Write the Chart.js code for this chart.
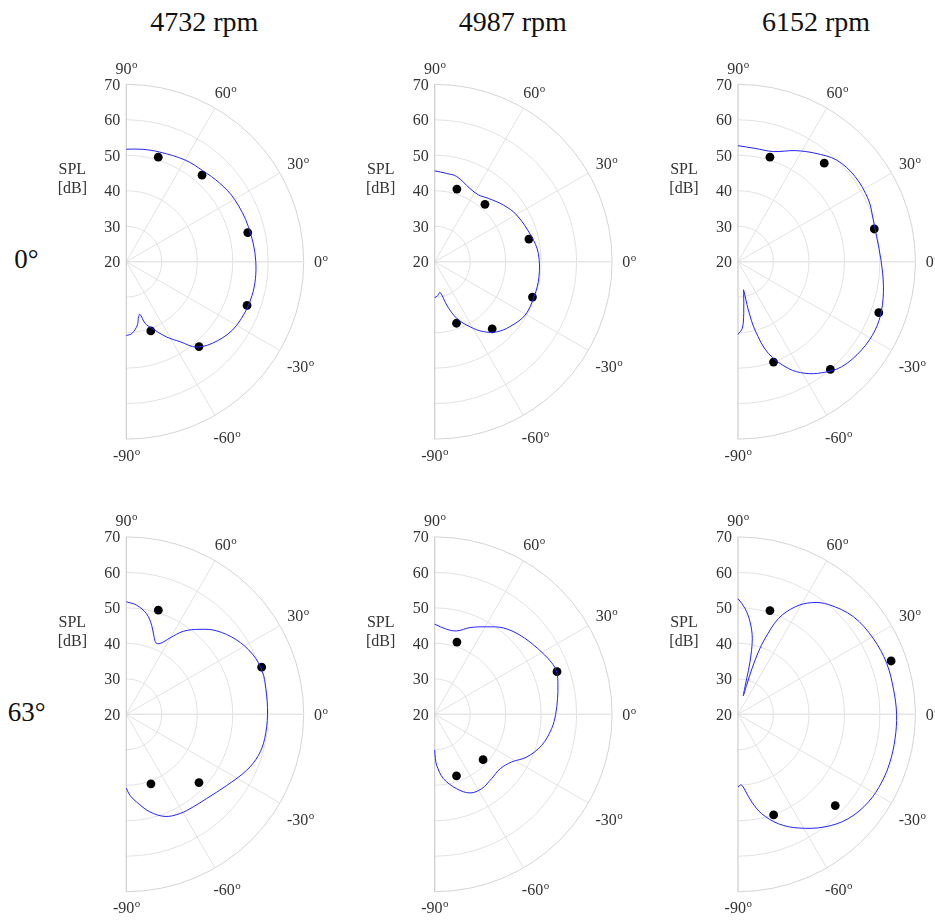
<!DOCTYPE html>
<html>
<head>
<meta charset="utf-8">
<title>SPL directivity</title>
<script src="https://cdn.jsdelivr.net/npm/chart.js@4.4.1/dist/chart.umd.min.js"></script>
<style>
  html, body { margin: 0; padding: 0; background: #fff; }
  body { position: relative; width: 935px; height: 922px; overflow: hidden; color: #111; }
  .col-title { position: absolute; top: 6px; font-family: "Liberation Serif", "DejaVu Serif", serif;
               font-size: 28px; line-height: 32px; transform: translateX(-50%); white-space: nowrap; }
  .row-title { position: absolute; font-family: "Liberation Serif", "DejaVu Serif", serif;
               font-size: 27px; line-height: 30px; transform: translate(-50%, -50%); white-space: nowrap; }
  canvas { position: absolute; }
</style>
</head>
<body>
<script>
// Labels and ticks
const rpmLabels = ['4732 rpm', '4987 rpm', '6152 rpm'];
const rowLabels = ['0°', '63°'];
const radialTicks = [20, 30, 40, 50, 60, 70];
const angleTicks = [90, 60, 30, 0, -30, -60, -90];

// Microphone angles (deg) for each row
const micAngles0 = [73, 48.8, 13.5, -19.9, -49.4, -70.5];
const micAngles63 = [72.9, 19.2, -43.2, -70.5];

// Measured SPL at the microphones (dB)
const mic0_4732 = [50.8, 52.4, 55.2, 56.2, 51.5, 40.7];
const mic0_4987 = [41.4, 41.5, 47.3, 49.3, 44.9, 38.4];
const mic0_6152 = [50.8, 56.9, 59.5, 62.2, 60.0, 50.0];
const mic63_4732 = [50.7, 60.4, 48.1, 40.8];
const mic63_4987 = [41.3, 56.5, 38.7, 38.4];
const mic63_6152 = [50.6, 65.7, 57.6, 50.1];

// Predicted directivity curves: angle (deg) and SPL (dB)
const curveAng0_4732 = [90, 82, 73, 60, 50, 40, 30, 16, 0, -15, -30, -41, -50.5, -56, -62, -69, -73, -75.5, -78, -80, -85.5, -90];
const curveSpl0_4732 = [51.7, 52.0, 52.3, 53.1, 53.5, 54.4, 55.2, 55.8, 56.5, 56.7, 55.9, 54.0, 51.2, 47.2, 44.0, 40.1, 38.2, 35.3, 36.3, 38.1, 40.3, 40.8];

const curveAng0_4987 = [90, 82.3, 75.5, 64.3, 56.8, 49.7, 39.5, 29.6, 14.5, 4.6, -8.2, -19.2, -30.6, -40.8, -48.5, -55.2, -61.5, -68.8, -74.5, -80, -85.5, -90];
const curveSpl0_4987 = [45.6, 45.1, 44.8, 42.9, 42.5, 43.4, 45.1, 46.6, 48.2, 49.3, 49.7, 49.7, 49.6, 48.0, 46.4, 44.0, 40.9, 37.1, 32.7, 28.8, 29.7, 30.1];

const curveAng0_6152 = [90, 81.5, 72.2, 62.8, 54.6, 45.9, 36, 25.3, 17.1, 10.2, 0.7, -9.8, -18.6, -26.5, -35.5, -45.4, -53, -59, -64.7, -71.7, -76, -77.9, -78.8, -80, -83.7, -86.3, -90];
const curveSpl0_6152 = [52.7, 52.3, 52.6, 55.2, 57.5, 59.9, 60.8, 60.7, 59.9, 59.7, 60.3, 61.6, 62.7, 63.2, 62.8, 61.6, 59.2, 56.7, 53.3, 47.2, 39.9, 33.9, 28.1, 29.2, 34.7, 38.8, 40.5];

const curveAng63_4732 = [90, 84.6, 78.6, 74.1, 70.3, 67.4, 64.5, 60.2, 55.5, 49.1, 42.9, 34.3, 25.5, 17.6, 10.5, 0, -10, -17.3, -25, -35.3, -46.4, -54.1, -61.6, -69.2, -76.4, -83.3, -87.4, -90];
const curveSpl63_4732 = [51.7, 50.9, 48.9, 46.1, 43.2, 41.8, 42.1, 44.8, 48.4, 51.7, 54.6, 57.4, 59.4, 60.2, 60.0, 59.8, 59.6, 59.0, 57.4, 54.7, 52.8, 52.2, 51.8, 50.8, 48.3, 44.9, 42.9, 40.8];

const curveAng63_4987 = [90, 82, 75.2, 67.8, 59.2, 51.5, 42.8, 32.8, 24, 19, 13.4, 7.3, 0, -7, -16.2, -24.9, -31.8, -39.7, -48.5, -57.7, -65.8, -73.5, -82.3, -87.8, -89.1, -90];
const curveSpl63_4987 = [45.4, 44.2, 44.3, 46.4, 48.7, 51.1, 52.8, 54.4, 56.0, 56.4, 55.7, 54.9, 54.1, 53.2, 51.4, 48.6, 45.5, 44.0, 44.2, 44.8, 44.3, 41.9, 38.3, 34.4, 32.5, 30.1];

const curveAng63_6152 = [90, 86.2, 82.6, 79.3, 77.1, 76.3, 75.5, 74, 73.5, 73, 71.9, 70.4, 67.1, 62, 56.6, 50.5, 40.2, 29.3, 18.9, 8.9, 0, -8.8, -17.4, -25.2, -33.9, -43.4, -52.3, -62, -69.7, -76.6, -81.1, -84.7, -86.5, -87.8, -90];
const curveSpl63_6152 = [52.6, 49.9, 46.3, 41.7, 35.1, 30.3, 27.3, 25.4, 28.5, 33.4, 38.5, 42.6, 49.3, 54.3, 57.7, 60.1, 62.6, 63.7, 64.3, 64.4, 64.7, 64.8, 64.9, 64.8, 64.3, 62.8, 60.1, 56.3, 52.9, 48.8, 45.0, 41.5, 40.2, 39.9, 40.5];

const panels = [
  { row: 0, col: 0, ang: curveAng0_4732, spl: curveSpl0_4732, micAng: micAngles0, mic: mic0_4732 },
  { row: 0, col: 1, ang: curveAng0_4987, spl: curveSpl0_4987, micAng: micAngles0, mic: mic0_4987 },
  { row: 0, col: 2, ang: curveAng0_6152, spl: curveSpl0_6152, micAng: micAngles0, mic: mic0_6152 },
  { row: 1, col: 0, ang: curveAng63_4732, spl: curveSpl63_4732, micAng: micAngles63, mic: mic63_4732 },
  { row: 1, col: 1, ang: curveAng63_4987, spl: curveSpl63_4987, micAng: micAngles63, mic: mic63_4987 },
  { row: 1, col: 2, ang: curveAng63_6152, spl: curveSpl63_6152, micAng: micAngles63, mic: mic63_6152 },
];

// Layout
const colCenters = [126.3, 434.7, 738];
const rowCenters = [261.7, 714.3];
const RADIUS = 177.4;
const R_MIN = radialTicks[0];
const R_SPAN = radialTicks[radialTicks.length - 1] - R_MIN;
const CANVAS_W = 330, CANVAS_H = 440;
const FONT = '"Liberation Serif", "DejaVu Serif", serif';

function toXY(angleDeg, spl) {
  const a = angleDeg * Math.PI / 180;
  const r = spl - R_MIN;
  return { x: r * Math.cos(a), y: r * Math.sin(a) };
}

// Draw label like 60 with a small raised "o"
function drawAngleLabel(ctx, text, x, y) {
  ctx.font = '16px ' + FONT;
  const w1 = ctx.measureText(text).width;
  ctx.font = '11px ' + FONT;
  const w2 = ctx.measureText('o').width;
  const left = x - (w1 + w2) / 2;
  ctx.textAlign = 'left';
  ctx.textBaseline = 'alphabetic';
  ctx.fillStyle = '#333';
  ctx.font = '16px ' + FONT;
  ctx.fillText(text, left, y + 5.5);
  ctx.font = '11px ' + FONT;
  ctx.fillText('o', left + w1 + 0.5, y - 0.5);
}

const polarGrid = {
  id: 'polarGrid',
  beforeDatasetsDraw(chart) {
    const { ctx, scales: { x, y } } = chart;
    const cx = x.getPixelForValue(0);
    const cy = y.getPixelForValue(0);
    const rPx = v => x.getPixelForValue(v - R_MIN) - cx;
    const R = rPx(radialTicks[radialTicks.length - 1]);
    ctx.save();

    // circles
    radialTicks.slice(1).forEach((t, i, arr) => {
      ctx.beginPath();
      ctx.arc(cx, cy, rPx(t), -Math.PI / 2, Math.PI / 2);
      ctx.strokeStyle = i === arr.length - 1 ? '#d4d4d4' : '#e2e2e2';
      ctx.lineWidth = 1;
      ctx.stroke();
    });

    // spokes
    angleTicks.filter(a => Math.abs(a) < 90).forEach(a => {
      const rad = a * Math.PI / 180;
      ctx.beginPath();
      ctx.moveTo(cx, cy);
      ctx.lineTo(cx + R * Math.cos(rad), cy - R * Math.sin(rad));
      ctx.strokeStyle = a === 0 ? '#e6e6e6' : '#e2e2e2';
      ctx.lineWidth = a === 0 ? 1.6 : 1;
      ctx.stroke();
    });

    // vertical axis
    ctx.beginPath();
    ctx.moveTo(cx, cy - R);
    ctx.lineTo(cx, cy + R);
    ctx.strokeStyle = '#cdcdcd';
    ctx.lineWidth = 1.2;
    ctx.stroke();

    // radial tick labels
    ctx.fillStyle = '#333';
    ctx.font = '16px ' + FONT;
    ctx.textAlign = 'right';
    ctx.textBaseline = 'alphabetic';
    radialTicks.forEach(t => {
      ctx.fillText(String(t), cx - 6, cy - rPx(t) + 5.5);
    });

    // axis title
    ctx.textAlign = 'center';
    ctx.fillText('SPL', cx - 54, cy - 87.7);
    ctx.fillText('[dB]', cx - 54, cy - 68.7);

    // angle labels
    angleTicks.forEach(a => {
      const rad = a * Math.PI / 180;
      ctx.font = '16px ' + FONT;
      const w = ctx.measureText(String(a)).width + 6;
      const h = 12;
      const lx = cx + (R + 10) * Math.cos(rad) + (w / 2) * Math.cos(rad);
      let ly = cy - (R + 10) * Math.sin(rad) - (h / 2) * Math.sin(rad);
      if (a < 0 && a > -90) ly += 8;
      if (a > 0 && a < 90) ly -= 2;
      drawAngleLabel(ctx, String(a), lx, ly);
    });
    ctx.restore();
  }
};

// Column and row titles
rpmLabels.forEach((t, i) => {
  const d = document.createElement('div');
  d.className = 'col-title';
  d.style.left = (colCenters[i] + 78) + 'px';
  d.textContent = t;
  document.body.appendChild(d);
});
rowLabels.forEach((t, i) => {
  const d = document.createElement('div');
  d.className = 'row-title';
  d.style.left = (i === 0 ? 26.5 : 26.7) + 'px';
  d.style.top = (rowCenters[i] - 2.7) + 'px';
  d.textContent = t;
  document.body.appendChild(d);
});

// Build the six panels
panels.forEach(p => {
  const cx = colCenters[p.col], cy = rowCenters[p.row];
  const left = Math.floor(cx) - 100, top = Math.floor(cy) - 220;
  const canvas = document.createElement('canvas');
  canvas.width = CANVAS_W;
  canvas.height = CANVAS_H;
  canvas.style.left = left + 'px';
  canvas.style.top = top + 'px';
  canvas.style.width = CANVAS_W + 'px';
  canvas.style.height = CANVAS_H + 'px';
  document.body.appendChild(canvas);

  const padL = cx - left, padT = cy - top - RADIUS;
  new Chart(canvas, {
    type: 'scatter',
    data: {
      datasets: [
        {
          label: 'prediction',
          data: p.ang.map((a, i) => toXY(a, p.spl[i])),
          showLine: true,
          borderColor: 'rgb(35, 35, 255)',
          borderWidth: 1,
          pointRadius: 0,
          tension: 0.35,
          clip: false,
        },
        {
          label: 'measurement',
          data: p.micAng.map((a, i) => toXY(a, p.mic[i])),
          showLine: false,
          pointRadius: 4.4,
          pointHoverRadius: 4.4,
          backgroundColor: '#000',
          borderWidth: 0,
          clip: false,
        }
      ]
    },
    options: {
      responsive: false,
      animation: false,
      devicePixelRatio: 1,
      layout: {
        padding: {
          left: padL,
          right: CANVAS_W - padL - RADIUS,
          top: padT,
          bottom: CANVAS_H - padT - 2 * RADIUS
        }
      },
      plugins: { legend: { display: false }, tooltip: { enabled: false } },
      scales: {
        x: { type: 'linear', min: 0, max: R_SPAN, display: false },
        y: { type: 'linear', min: -R_SPAN, max: R_SPAN, display: false }
      }
    },
    plugins: [polarGrid]
  });
});
</script>
</body>
</html>
